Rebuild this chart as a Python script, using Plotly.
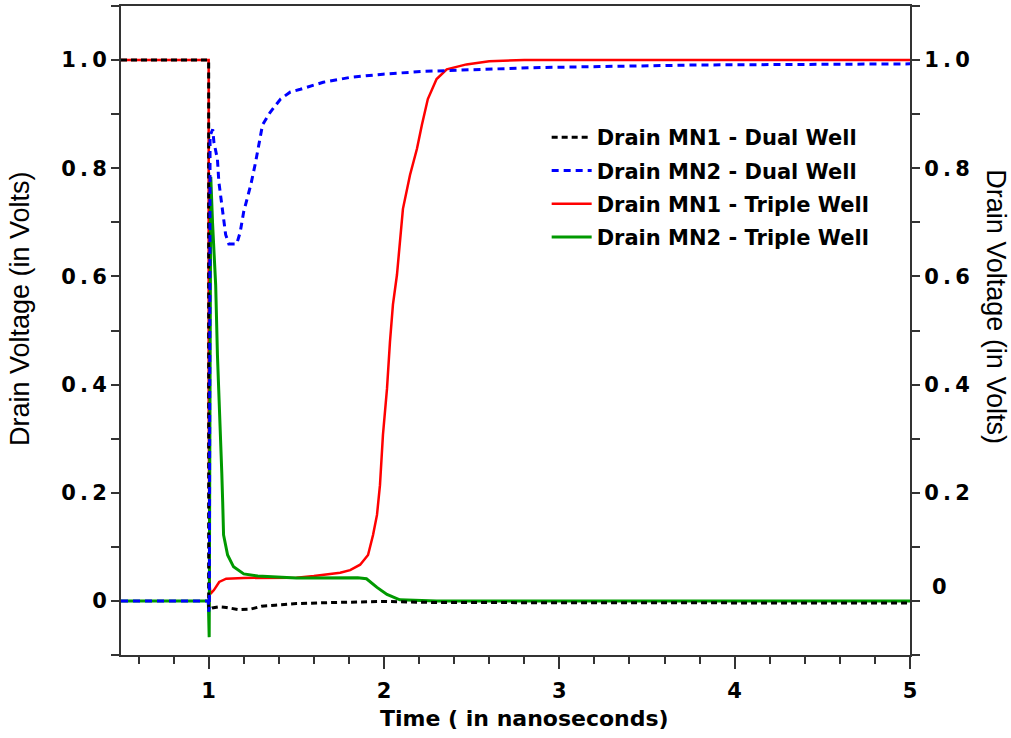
import plotly.graph_objects as go

# ---- data (time in ns, voltage in V) ----
t_mn1_dual = [0.5, 1.0, 1.0, 1.005, 1.02, 1.06, 1.1, 1.17, 1.24, 1.3, 1.38, 1.5, 1.7, 1.9, 2.0, 2.3, 3.0, 4.0, 5.0]
v_mn1_dual = [1.0, 1.0, -0.015, -0.015, -0.013, -0.011, -0.012, -0.016, -0.015, -0.01, -0.008, -0.005, -0.003, -0.002, -0.001, -0.003, -0.003, -0.003, -0.004]

t_mn2_dual = [0.5, 0.998, 1.0, 1.004, 1.008, 1.023, 1.03, 1.05, 1.058, 1.08, 1.097, 1.115, 1.16, 1.18, 1.2, 1.24,
              1.267, 1.307, 1.352, 1.41, 1.466, 1.523, 1.653, 1.807, 1.994, 2.22, 2.415, 2.6, 2.85, 3.23, 3.8, 5.0]
v_mn2_dual = [0.0, 0.0, -0.02, -0.01, 0.86, 0.872, 0.848, 0.817, 0.775, 0.72, 0.677, 0.66, 0.66, 0.682, 0.72, 0.769,
              0.81, 0.88, 0.904, 0.928, 0.941, 0.946, 0.959, 0.968, 0.974, 0.979, 0.981, 0.983, 0.986, 0.988, 0.991, 0.993]

t_mn1_triple = [0.5, 1.0, 1.0, 1.005, 1.01, 1.03, 1.06, 1.1, 1.2, 1.5, 1.6, 1.75, 1.807, 1.864, 1.909, 1.9375, 1.96,
                1.977, 1.994, 2.017, 2.034, 2.051, 2.074, 2.091, 2.108, 2.148, 2.188, 2.216, 2.25, 2.30, 2.358, 2.47,
                2.6, 2.8, 5.0]
v_mn1_triple = [1.0, 1.0, 0.37, 0.03, 0.013, 0.02, 0.035, 0.041, 0.0425, 0.043, 0.046, 0.052, 0.057, 0.067, 0.085,
                0.122, 0.159, 0.214, 0.307, 0.392, 0.479, 0.548, 0.603, 0.669, 0.725, 0.787, 0.836, 0.88, 0.928, 0.965,
                0.983, 0.992, 0.998, 1.0, 1.0]

t_mn2_triple = [0.5, 0.998, 1.003, 1.008, 1.012, 1.022, 1.04, 1.05, 1.065, 1.075, 1.08, 1.085, 1.108, 1.142, 1.2,
                1.28, 1.5, 1.85, 1.9, 1.96, 2.017, 2.09, 2.3, 5.0]
v_mn2_triple = [0.0, 0.0, -0.067, 0.3, 0.784, 0.70, 0.584, 0.455, 0.336, 0.235, 0.183, 0.122, 0.085, 0.063, 0.05,
                0.046, 0.0425, 0.043, 0.041, 0.025, 0.012, 0.002, 0.0, 0.0]

names = ["Drain MN1 - Dual Well", "Drain MN2 - Dual Well", "Drain MN1 - Triple Well", "Drain MN2 - Triple Well"]
x_ticks = [1, 2, 3, 4, 5]
y_ticks = [0, 0.2, 0.4, 0.6, 0.8, 1.0]
y_ticktext = ["0", "0.2", "0.4", "0.6", "0.8", "1.0"]
y2_ticks = [0.2, 0.4, 0.6, 0.8, 1.0]
y2_ticktext = ["0.2", "0.4", "0.6", "0.8", "1.0"]


def spaced(s):
    # the reference tick labels are set with wide letter spacing
    return "\u2009".join(s)


AX = "#333333"
TICKFONT = dict(family="DejaVu Sans", size=21, color="black", weight="bold")
XTICKFONT = dict(family="DejaVu Sans", size=21, color="black", weight="bold")

fig = go.Figure()
# triple well first (drawn underneath)
fig.add_trace(go.Scatter(x=t_mn1_triple, y=v_mn1_triple, mode="lines", name=names[2], legendrank=3,
                         legendgroup="c", line=dict(color="#ff0000", width=2.5)))
fig.add_trace(go.Scatter(x=t_mn2_triple, y=v_mn2_triple, mode="lines", name=names[3], legendrank=4,
                         legendgroup="d", line=dict(color="#009900", width=3)))
fig.add_trace(go.Scatter(x=t_mn1_dual, y=v_mn1_dual, mode="lines", name=names[0], legendrank=1,
                         legendgroup="a", line=dict(color="black", width=3, dash="6px,4px")))
fig.add_trace(go.Scatter(x=t_mn2_dual, y=v_mn2_dual, mode="lines", name=names[1], legendrank=2,
                         legendgroup="b", line=dict(color="#0000ff", width=3, dash="7px,5px")))
# invisible trace to activate right axis
fig.add_trace(go.Scatter(x=[0.5], y=[0], yaxis="y2", mode="lines", showlegend=False, hoverinfo="skip",
                         line=dict(width=0)))

fig.update_layout(
    width=1011, height=738,
    margin=dict(l=121, r=101, t=4, b=83),
    plot_bgcolor="white", paper_bgcolor="white",
    showlegend=True,
    legend=dict(x=0.5395, y=0.829, xanchor="left", yanchor="top", bgcolor="rgba(0,0,0,0)",
                font=dict(family="DejaVu Sans", size=21, color="black", weight="bold"),
                tracegroupgap=3, itemwidth=40),
    xaxis=dict(range=[0.5, 5], tickvals=x_ticks, ticks="outside", ticklen=12, tickwidth=2, tickcolor=AX,
               showline=True, linecolor=AX, linewidth=2, mirror=True, showgrid=False, zeroline=False,
               tickfont=XTICKFONT, ticklabelstandoff=4,
               minor=dict(tick0=0, dtick=0.2, ticks="outside", ticklen=7, tickwidth=2, tickcolor=AX, showgrid=False)),
    yaxis=dict(range=[-0.1, 1.1], tickvals=y_ticks, ticktext=[spaced(s) for s in y_ticktext], ticks="outside",
               ticklen=8, tickwidth=2, tickcolor=AX, showline=True, linecolor=AX, linewidth=2, showgrid=False,
               zeroline=False, tickfont=TICKFONT,
               minor=dict(tick0=0, dtick=0.1, ticks="outside", ticklen=8, tickwidth=2, tickcolor=AX, showgrid=False)),
    yaxis2=dict(range=[-0.1, 1.1], overlaying="y", side="right", tickvals=y2_ticks,
                ticktext=[spaced(s) for s in y2_ticktext],
                ticks="outside", ticklen=8, tickwidth=2, tickcolor=AX, showline=True, linecolor=AX, linewidth=2,
                showgrid=False, zeroline=False, tickfont=TICKFONT,
                minor=dict(tick0=0, dtick=0.1, ticks="outside", ticklen=8, tickwidth=2, tickcolor=AX,
                           showgrid=False)),
    annotations=[
        dict(text="Time ( in nanoseconds)", xref="paper", yref="paper", x=0.512, y=0, yshift=-63,
             xanchor="center", yanchor="middle", showarrow=False,
             font=dict(family="DejaVu Sans", size=22, color="black", weight="bold")),
        dict(text="Drain Voltage (in Volts)", xref="paper", yref="paper", x=-0.128, y=0.533, textangle=-90,
             showarrow=False, xanchor="center", yanchor="middle",
             font=dict(family="Liberation Sans", size=27, color="black")),
        dict(text="Drain Voltage (in Volts)", xref="paper", yref="paper", x=1.108, y=0.537, textangle=90,
             showarrow=False, xanchor="center", yanchor="middle",
             font=dict(family="Liberation Sans", size=27, color="black")),
        dict(text="0", xref="paper", yref="y", x=1.0, y=0.025, xanchor="left", yanchor="middle", xshift=20,
             showarrow=False, font=TICKFONT),
    ],
)

fig.write_html("out.html")
